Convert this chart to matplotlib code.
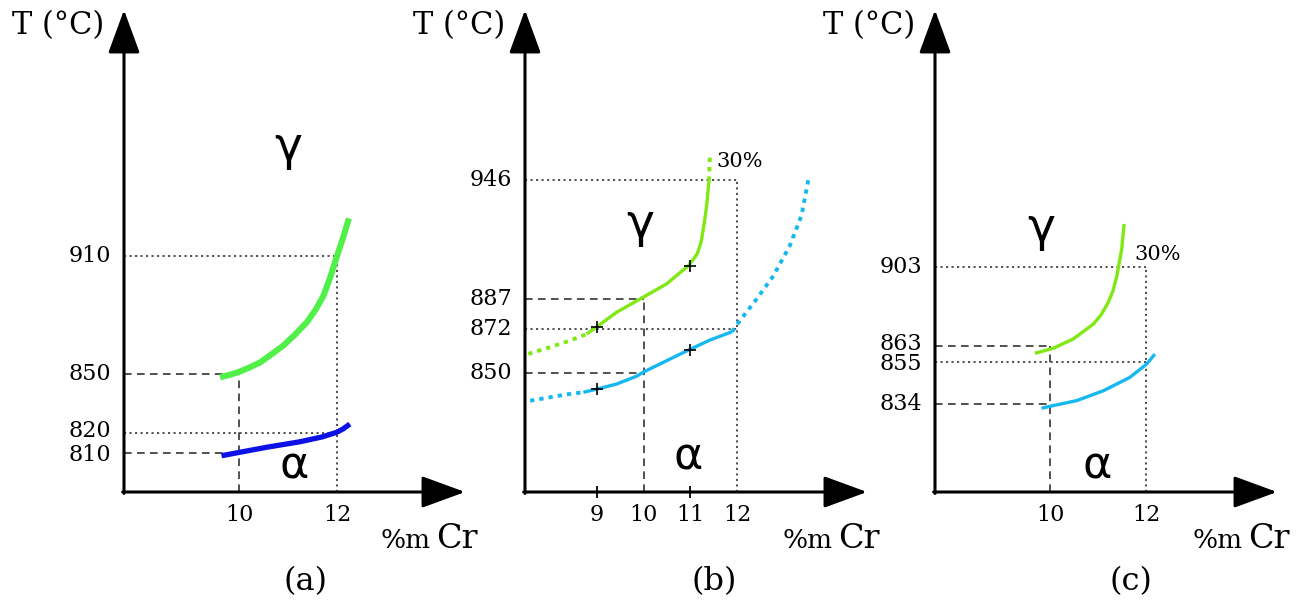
import matplotlib
matplotlib.use("Agg")
import matplotlib.pyplot as plt

plt.rcParams['font.family'] = 'DejaVu Serif'

W, H = 1309, 604

# ---- data (x = %m Cr, T = degC) ----
a_green_x = [9.61, 9.81, 9.98, 10.22, 10.43, 10.66, 10.90, 11.14, 11.38, 11.57, 11.72, 11.87, 12.00, 12.13, 12.24]
a_green_T = [848.2, 849.5, 850.8, 853.3, 855.8, 859.9, 864.3, 869.9, 876.1, 882.9, 889.6, 899.8, 910.0, 919.8, 928.9]
a_blue_x = [9.64, 10.02, 10.56, 11.24, 11.70, 11.99, 12.12, 12.26]
a_blue_T = [808.4, 810.2, 812.7, 815.5, 818.0, 820.3, 822.0, 824.5]

b_green_dot_x = [7.53, 7.99, 8.42, 8.78]
b_green_dot_T = [859.5, 862.8, 866.1, 869.4]
b_green_x = [8.78, 9.00, 9.42, 9.99, 10.49, 10.96, 11.06, 11.15, 11.23, 11.29, 11.35, 11.40]
b_green_T = [869.4, 873.0, 880.2, 887.7, 894.3, 903.4, 906.4, 909.5, 915.0, 923.3, 933.2, 945.7]
b_green_top_x = [11.40, 11.42]
b_green_top_T = [945.7, 958.0]

b_blue_dot_x = [7.57, 7.99, 8.42, 8.71]
b_blue_dot_T = [836.2, 837.9, 839.6, 840.4]
b_blue_x = [8.71, 9.00, 9.42, 9.85, 9.99, 10.49, 10.96, 11.42, 11.89]
b_blue_T = [840.4, 842.0, 844.5, 848.4, 850.4, 856.1, 861.4, 866.4, 870.5]
b_blue_top_x = [11.89, 12.06, 12.42, 12.78, 13.13, 13.38, 13.53]
b_blue_top_T = [870.5, 876.0, 886.8, 898.4, 913.3, 928.3, 946.5]

b_green_marks_x = [9, 11]
b_green_marks_T = [873, 903.4]
b_blue_marks_x = [9, 11]
b_blue_marks_T = [842, 861.4]

c_green_x = [9.68, 10.06, 10.48, 10.90, 11.06, 11.21, 11.31, 11.39, 11.49, 11.54]
c_green_T = [859.5, 862.0, 866.7, 874.2, 878.8, 885.1, 891.0, 898.5, 911.9, 924.5]
c_blue_x = [9.82, 10.06, 10.55, 11.11, 11.66, 12.01, 12.18]
c_blue_T = [831.9, 833.2, 835.7, 840.7, 847.4, 854.1, 859.1]

a_yticks = [910, 850, 820, 810]
b_yticks = [946, 887, 872, 850]
c_yticks = [903, 863, 855, 834]
a_xticks = [10, 12]
b_xticks = [9, 10, 11, 12]
c_xticks = [10, 12]

# reference lines: (T, x) pairs
a_dashed = [(850, 10), (810, 10)]
a_dotted = [(910, 12), (820, 12)]
b_dashed = [(887, 10), (850, 10)]
b_dotted = [(946, 12), (872, 12)]
c_dashed = [(863, 10), (834, 10)]
c_dotted = [(903, 12), (855, 12)]

panel_labels = ['(a)', '(b)', '(c)']

green_a = '#50f048'
blue_a = '#0c12e6'
green_bc = '#80e812'
blue_bc = '#16b8f0'

DASH = (0, (5, 3.5))
DOT = (0, (1.4, 2.2))
CURVE_DOT = (0, (1.1, 1.3))

fig = plt.figure(figsize=(W / 100, H / 100), dpi=100)


def make_panel(ox, oy, tipx, tipy, xv0, sx, T0, sT):
    ax = fig.add_axes([ox / W, 1 - oy / H, (tipx - ox) / W, (oy - tipy) / H])
    ax.set_xlim(xv0, xv0 + (tipx - ox) / sx)
    ax.set_ylim(T0, T0 + (oy - tipy) / sT)
    ax.axis('off')
    ap = dict(arrowstyle='-|>,head_length=1.5,head_width=0.55', mutation_scale=18,
              lw=2.2, color='black', shrinkA=0, shrinkB=0)
    ax.annotate('', xy=(1, 0), xytext=(-0.004, 0), xycoords='axes fraction', arrowprops=ap)
    ax.annotate('', xy=(0, 1), xytext=(0, -0.003), xycoords='axes fraction', arrowprops=ap)
    ax.annotate('T (°C)', xy=(0, 1), xycoords='axes fraction', xytext=(-20, -16),
                textcoords='offset pixels', ha='right', va='center', fontsize=22)
    ax.annotate('Cr', xy=(1, 0), xycoords='axes fraction', xytext=(13, -56),
                textcoords='offset pixels', ha='right', va='baseline', fontsize=24)
    ax.annotate('%m', xy=(1, 0), xycoords='axes fraction', xytext=(-34, -56),
                textcoords='offset pixels', ha='right', va='baseline', fontsize=19)
    return ax


def ref_lines(ax, xv0, T0, dashed, dotted):
    for T, x in dashed:
        ax.plot([xv0, x], [T, T], ls=DASH, lw=1.1, color='#222222')
    ax.plot([dashed[0][1]] * 2, [T0, dashed[0][0]], ls=DASH, lw=1.1, color='#222222')
    for T, x in dotted:
        ax.plot([xv0, x], [T, T], ls=DOT, lw=1.1, color='#222222')
    ax.plot([dotted[0][1]] * 2, [T0, dotted[0][0]], ls=DOT, lw=1.1, color='#222222')


def tick_labels(ax, xv0, T0, sT, yticks, xticks):
    # labels that sit very close together get nudged apart a little
    for i, T in enumerate(yticks):
        dy = 0
        if i + 1 < len(yticks) and (T - yticks[i + 1]) * sT < 24:
            dy += 2
        if i > 0 and (yticks[i - 1] - T) * sT < 24:
            dy -= 2
        ax.annotate(str(T), xy=(xv0, T), xytext=(-13, dy), textcoords='offset pixels',
                    ha='right', va='center', fontsize=16)
    for x in xticks:
        ax.annotate(str(x), xy=(x, T0), xytext=(0, -23), textcoords='offset pixels',
                    ha='center', va='center', fontsize=16)


def curve(ax, x, T, color, lw, ls='-'):
    ax.plot(x, T, color=color, lw=lw, ls=ls, solid_capstyle='butt', solid_joinstyle='round')


# ---- panel (a) ----
ax = make_panel(124, 492, 465, 10, 7.65, 49, 790, 1.97)
ref_lines(ax, 7.65, 790, a_dashed, a_dotted)
tick_labels(ax, 7.65, 790, 1.97, a_yticks, a_xticks)
curve(ax, a_green_x, a_green_T, green_a, 4.4)
curve(ax, a_blue_x, a_blue_T, blue_a, 3.8)
ax.text(11.0, 965, 'γ', family='DejaVu Sans', fontsize=34, ha='center', va='center')
ax.text(11.12, 803, 'α', family='DejaVu Sans', fontsize=32, ha='center', va='center')

# ---- panel (b) ----
ax = make_panel(525, 492, 867, 10, 7.46, 46.7, 790.8, 2.01)
ref_lines(ax, 7.46, 790.8, b_dashed, b_dotted)
tick_labels(ax, 7.46, 790.8, 2.01, b_yticks, b_xticks)
ax.plot([9, 11], [790.8, 790.8], ls='none', marker='|', ms=9, mew=1.3, color='black', clip_on=False)
curve(ax, b_green_dot_x, b_green_dot_T, green_bc, 2.8, CURVE_DOT)
curve(ax, b_green_x, b_green_T, green_bc, 2.4)
curve(ax, b_green_top_x, b_green_top_T, green_bc, 2.8, CURVE_DOT)
curve(ax, b_blue_dot_x, b_blue_dot_T, blue_bc, 2.8, CURVE_DOT)
curve(ax, b_blue_x, b_blue_T, blue_bc, 2.4)
curve(ax, b_blue_top_x, b_blue_top_T, blue_bc, 2.8, CURVE_DOT)
ax.plot(b_green_marks_x, b_green_marks_T, ls='none', marker='+', ms=8, mew=1.2, color='black')
ax.plot(b_blue_marks_x, b_blue_marks_T, ls='none', marker='+', ms=8, mew=1.2, color='black')
ax.text(11.55, 955, '30%', fontsize=15, ha='left', va='center')
ax.text(9.92, 924, 'γ', family='DejaVu Sans', fontsize=34, ha='center', va='center')
ax.text(10.96, 808, 'α', family='DejaVu Sans', fontsize=32, ha='center', va='center')

# ---- panel (c) ----
ax = make_panel(935, 492, 1277, 10, 7.6, 48, 789.8, 1.99)
ref_lines(ax, 7.6, 789.8, c_dashed, c_dotted)
tick_labels(ax, 7.6, 789.8, 1.99, c_yticks, c_xticks)
curve(ax, c_green_x, c_green_T, green_bc, 2.4)
curve(ax, c_blue_x, c_blue_T, blue_bc, 2.4)
ax.text(11.75, 909, '30%', fontsize=15, ha='left', va='center')
ax.text(9.81, 922, 'γ', family='DejaVu Sans', fontsize=34, ha='center', va='center')
ax.text(10.98, 803, 'α', family='DejaVu Sans', fontsize=32, ha='center', va='center')

for px, lab in zip([305, 714, 1131], panel_labels):
    fig.text(px / W, 1 - 582 / H, lab, fontsize=23, ha='center', va='center')

fig.savefig('out.png', dpi=100)
